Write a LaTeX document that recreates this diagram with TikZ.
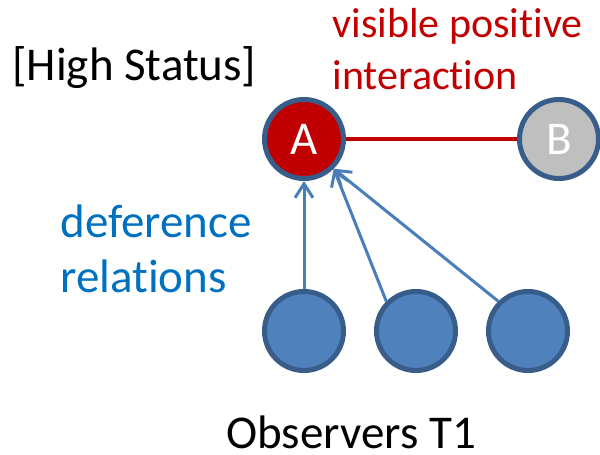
\documentclass[tikz,border=0pt]{standalone}
\usepackage{fontspec}
\setmainfont{Carlito}[Ligatures=NoCommon]
\usetikzlibrary{arrows.meta}
\definecolor{rimblue}{HTML}{385D8A}
\definecolor{obsblue}{HTML}{4F81BD}
\definecolor{statred}{HTML}{C00000}
\definecolor{textblue}{HTML}{0070C0}
\definecolor{arrowblue}{HTML}{4A7EBB}
\begin{document}
\begin{tikzpicture}[x=0.5pt,y=-0.5pt,
  actor/.style={circle,draw=rimblue,line width=2.5pt,minimum size=39.5pt,inner sep=0pt,
    text=white,font=\fontsize{23.5}{28}\selectfont},
  caption/.style={anchor=base west,inner sep=0pt,align=left,font=\fontsize{23.5}{27.5}\selectfont},
  defer/.style={-{Straight Barb[length=7pt,width=9pt]},arrowblue,line width=1.5pt}]
  \useasboundingbox (0,0) rectangle (600,455);
  % Status pair
  \node[actor,fill=statred] (a) at (304,139) {A};
  \node[actor,fill=black!25] (b) at (559,139) {B};
  \draw[statred,line width=2pt] (a) -- (b);
  % Observers
  \node[actor,fill=obsblue] (o1) at (304,331) {};
  \node[actor,fill=obsblue] (o2) at (416,331) {};
  \node[actor,fill=obsblue] (o3) at (528,331) {};
  % Deference arrows
  \draw[defer] (o1.north) -- (a.south);
  \draw[defer] (o2.north west) -- (a.south east);
  \draw[defer] (o3.north west) -- (a.south east);
  % Labels (base = last line)
  \node[caption] (status) at (12,80) {[High Status]};
  \node[caption,text=statred,font=\fontsize{21}{26}\selectfont] (tie) at (332,90) {visible positive\\interaction};
  \node[caption,text=textblue] (rel) at (60,292) {deference\\relations};
  \node[caption,anchor=base] (obs) at (351,448) {Observers T1};
\end{tikzpicture}
\end{document}
